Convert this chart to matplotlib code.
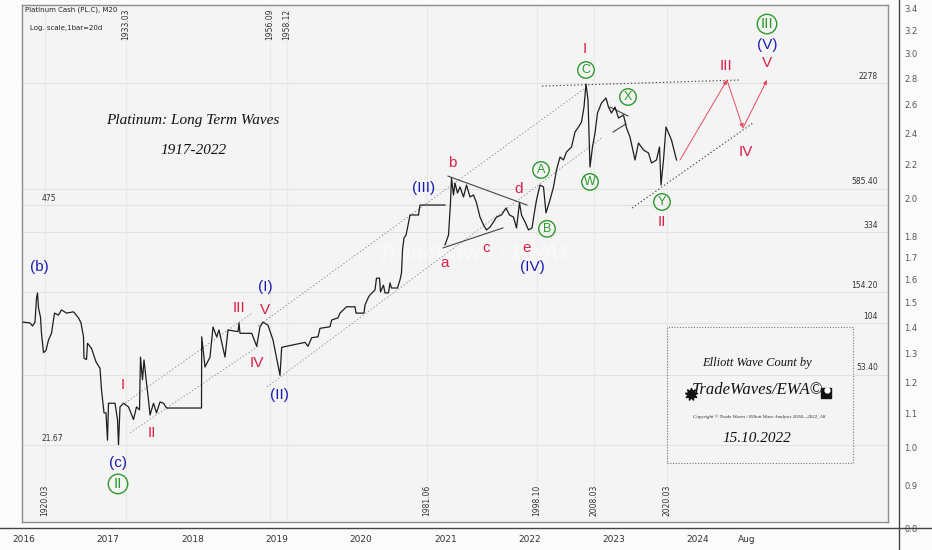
import numpy as np
import matplotlib
matplotlib.use("Agg")
import matplotlib.pyplot as plt
from matplotlib.lines import Line2D
from matplotlib.ticker import NullLocator

# ---- outer scale (right axis / year axis) ----
year_ticks = [2016, 2017, 2018, 2019, 2020, 2021, 2022, 2023, 2024, 2024.583]
year_labels = ["2016", "2017", "2018", "2019", "2020", "2021", "2022", "2023", "2024", "Aug"]
right_ticks = [0.8, 0.9, 1.0, 1.1, 1.2, 1.3, 1.4, 1.5, 1.6, 1.7, 1.8, 2.0, 2.2, 2.4, 2.6, 2.8, 3.0, 3.2, 3.4]

# ---- inner chart: price line (bar index, price) ----
bars = [1, 8, 10.5, 13, 14.5, 15.5, 16.5, 18.5, 19.5, 21.5, 24, 26.5, 29.5, 31.5, 32.5, 36.5, 39.5,
        44.5, 51.5, 56.5, 59, 61.5, 62, 64.5, 65.5, 69.5, 74, 78, 79.5, 82, 84, 85.5, 86.5, 93, 95.5,
        96.5, 98, 101.5, 106.5, 111.5, 114.5, 117.5, 118.5, 120.5, 122, 124.5, 126.5, 128, 131.5,
        134.5, 138, 141.5, 144.5, 179.5, 179.7, 183, 188, 191, 194.7, 197, 203, 206, 216, 217, 218,
        229.7, 234.7, 238, 241, 246, 251, 258, 259.7, 283, 286, 289.7, 296, 298, 308, 309.7, 316,
        318, 324.5, 333, 334, 342, 343, 346.5, 348, 353, 354.5, 357.5, 358.5, 361.5, 363, 366.5,
        368, 369.5, 375.5, 378, 379.5, 380.5, 382, 384, 385.5, 388, 396.5, 398, 423,
        np.nan,
        423, 426.5, 428.5, 429.5, 431.5, 433, 435.5, 438, 441.5, 444.5, 448, 451.5, 454.5, 458,
        461.5, 464.5, 468, 471.5, 474.5, 479.5, 484, 487.5, 491.5, 494.5, 497.5, 499.5, 503, 506.5,
        510, 512, 514.5, 518, 521.5, 524, 528, 531.5, 534.5, 538, 541.5, 544.5, 549.5, 553, 556.5,
        559.5, 562, 564, 566, 568, 570.5, 573, 575.5, 579.5, 584, 586.5, 589.5, 593, 596.5, 601.5,
        604.5, 608, 613, 616.5, 621.5, 626.5, 629.5, 634.5, 637.5, 639, 641.5, 644, 646.5, 649.5,
        652, 654.5]
prices = [105, 104, 100, 105, 143, 153, 126, 112, 91, 71, 73, 83.5, 91, 108, 118, 115, 123,
          118, 120, 111, 104, 87, 66, 65, 80, 75, 63, 58, 44, 32.7, 32.7, 23, 37, 37, 30,
          21.7, 35.3, 37, 35.3, 30, 35.3, 34, 67, 50, 64.6, 48, 38.6, 31.8, 37,
          32.7, 37.6, 37, 34.8, 34.8, 87, 59, 67, 98.7, 87, 95, 67, 95, 93, 104, 91,
          91, 77, 99, 105, 101, 83.5, 53, 76, 81, 77, 86, 87, 97, 99, 108, 111,
          118, 128, 128, 118, 118, 131, 145, 149, 159, 185, 185, 155, 169, 153, 153,
          174, 163, 163, 181, 198, 266, 310, 322, 353, 417, 417, 474, 474,
          np.nan,
          284, 322, 487, 671, 539, 629, 553, 598, 526, 613, 526, 539, 487, 406,
          367, 344, 357, 381, 406, 417, 456, 417, 406, 353, 487, 417, 381, 344,
          353, 417, 506, 613, 598, 428, 506, 598, 744, 879, 846, 938, 1000, 1213, 1293,
          1379, 1672, 2250, 1831, 773, 1000, 1197, 1549, 1761, 1878, 1672, 1549, 1672, 1452, 1510,
          1277, 1137, 846, 1053, 962, 926, 814, 846, 1000, 613, 846, 1293, 1197, 1094,
          962, 846]

# price levels printed on the inner chart
levels = [2278, 585.40, 334, 154.20, 104, 53.40]
level_labels = ["2278", "585.40", "334", "154.20", "104", "53.40"]
left_levels = [475, 21.67]
left_level_labels = ["475", "21.67"]

# date markers (bar index, label)
top_dates = [(104, "1933.03"), (248, "1956.09"), (265, "1958.12")]
bottom_dates = [(23, "1920.03"), (405, "1981.06"), (515, "1998.10"), (572, "2008.03"), (645, "2020.03")]

# wave labels (bar, price, text)
red_labels = [(563, 3529, "I"), (704, 2836, "III"), (745, 2946, "V"), (724, 938, "IV"),
              (640, 381, "II"), (101, 46.9, "I"), (130, 25.3, "II"), (217, 126, "III"),
              (243, 123, "V"), (235, 62.3, "IV"),
              (423, 226, "a"), (430, 814, "b"), (464, 273, "c"), (497, 583, "d"), (505, 273, "e")]
blue_labels = [(17, 214, "(b)"), (96, 17.2, "(c)"), (243, 165, "(I)"), (257, 41.2, "(II)"),
               (402, 590, "(III)"), (510, 214, "(IV)"), (745, 3715, "(V)")]
green_labels = [(96, 13.1, "II"), (745, 4866, "III"), (519, 744, "A"), (525, 349, "B"),
                (564, 2693, "C"), (568, 638, "W"), (606, 1903, "X"), (640, 493, "Y")]

# trend / channel lines (bar0, price0, bar1, price1)
channel_lines = [(103, 37.1, 230, 118), (108, 25.3, 238, 78.4),
                 (236, 100, 566, 2191), (245, 45.7, 581, 1137)]
triangle_lines = [(426, 688, 505, 474), (421, 273, 481, 353),
                  (588, 1672, 606, 1490), (591, 1213, 604, 1344)]
dark_dotted = [(520, 2191, 718, 2368), (610, 456, 731, 1363)]
projection_bars = [658, 705, 721, 745]
projection_prices = [846, 2368, 1277, 2368]

RED = "#d8204a"
BLUE = "#1c1cb0"
GREEN = "#2c9a2c"
SCRIPT = dict(family="Liberation Serif", style="italic")

fig = plt.figure(figsize=(9.32, 5.5), dpi=100, facecolor="#fbfbfb")

# outer axes: log scale on the right, years at the bottom
ax = fig.add_axes([0, 22 / 550, 899 / 932, 528 / 550])
ax.set_facecolor("none")
ax.set_xlim(2015.715, 2026.386)
ax.set_yscale("log")
ax.set_ylim(0.803, 3.481)
ax.set_yticks(right_ticks)
ax.set_yticklabels(["%.1f" % t for t in right_ticks])
ax.yaxis.set_minor_locator(NullLocator())
ax.set_xticks(year_ticks)
ax.set_xticklabels(year_labels)
ax.yaxis.tick_right()
ax.tick_params(axis="y", length=0, pad=4, labelsize=6, labelcolor="#555555")
ax.tick_params(axis="x", length=0, pad=5, labelsize=6.5, labelcolor="#333333")
for s in ax.spines.values():
    s.set_visible(False)
fig.add_artist(Line2D([0, 1], [22 / 550, 22 / 550], transform=fig.transFigure, color="#444444", lw=1))
fig.add_artist(Line2D([899 / 932, 899 / 932], [0, 1], transform=fig.transFigure, color="#444444", lw=1))

# inner chart panel
ai = fig.add_axes([22 / 932, 28 / 550, 866 / 932, 517 / 550])
ai.set_facecolor("#f4f4f4")
ai.set_xlim(0, 866)
ai.set_yscale("log")
ai.set_ylim(8.03, 6215)
ai.set_xticks([])
ai.set_yticks([])
ai.yaxis.set_minor_locator(NullLocator())
for s in ai.spines.values():
    s.set_color("#8c8c8c")
    s.set_linewidth(1)

for lv in levels + left_levels:
    ai.axhline(lv, color="#e2e2e2", lw=0.8, zorder=1)
for b, _ in top_dates + bottom_dates:
    ai.axvline(b, color="#e8e8e8", lw=0.8, zorder=1)

for lv, lab in zip(levels, level_labels):
    ai.text(856, lv * 1.03, lab, ha="right", va="bottom", fontsize=5.5, color="#333333")
for lv, lab in zip(left_levels, left_level_labels):
    ai.text(20, lv * 1.03, lab, ha="left", va="bottom", fontsize=5.5, color="#333333")

for b, lab in top_dates:
    ai.text(b, 0.993, lab, transform=ai.get_xaxis_transform(), rotation=90,
            ha="center", va="top", fontsize=5.5, color="#333333")
for b, lab in bottom_dates:
    ai.text(b, 0.012, lab, transform=ai.get_xaxis_transform(), rotation=90,
            ha="center", va="bottom", fontsize=5.5, color="#333333")

ai.text(0.0035, 0.99, "Platinum Cash (PL.C), M20", transform=ai.transAxes,
        ha="left", va="center", fontsize=5, color="#222222")
ai.text(0.009, 0.955, "Log. scale,1bar=20d", transform=ai.transAxes,
        ha="left", va="center", fontsize=5, color="#222222")

# faint watermark
ai.text(455, 250, "TradeWaves / EWA\u00a9", ha="center", va="center", fontsize=17,
        color="white", alpha=0.6, zorder=2, **SCRIPT)

# guide lines
for b0, p0, b1, p1 in channel_lines:
    ai.plot([b0, b1], [p0, p1], color="#9a9a9a", lw=0.7, ls=(0, (1.5, 2)), zorder=3)
for b0, p0, b1, p1 in triangle_lines:
    ai.plot([b0, b1], [p0, p1], color="#444444", lw=0.8, zorder=3)
for b0, p0, b1, p1 in dark_dotted:
    ai.plot([b0, b1], [p0, p1], color="#444444", lw=0.8, ls=(0, (1.2, 2)), zorder=3)

# price line
ai.plot(bars, prices, color="#1e1e1e", lw=0.9, zorder=4)

# projected path
for i in range(len(projection_bars) - 1):
    ai.annotate("", xy=(projection_bars[i + 1], projection_prices[i + 1]),
                xytext=(projection_bars[i], projection_prices[i]),
                arrowprops=dict(arrowstyle="-|>", color="#e84a5f", lw=0.7,
                                mutation_scale=6, shrinkA=0, shrinkB=0), zorder=5)

# wave labels
for b, p, t in red_labels:
    ai.text(b, p, t, ha="center", va="center", fontsize=11, color=RED,
            family="Liberation Sans", zorder=6)
for b, p, t in blue_labels:
    ai.text(b, p, t, ha="center", va="center", fontsize=11, color=BLUE,
            family="Liberation Sans", zorder=6)
for b, p, t in green_labels:
    size = 11 if t in ("II", "III") else 9
    ai.text(b, p, t, ha="center", va="center", fontsize=size, color=GREEN,
            family="Liberation Sans", zorder=6,
            bbox=dict(boxstyle="circle,pad=0.18", fc="none", ec=GREEN, lw=1))

# title
ai.text(0.1975, 0.776, "Platinum: Long Term Waves", transform=ai.transAxes,
        ha="center", va="center", fontsize=11, color="#111111", **SCRIPT)
ai.text(0.1975, 0.7195, "1917-2022", transform=ai.transAxes,
        ha="center", va="center", fontsize=11, color="#111111", **SCRIPT)

# credit box
ai.add_patch(plt.Rectangle((0.745, 0.114), 0.215, 0.263, transform=ai.transAxes,
                           fill=False, ec="#777777", lw=0.8, ls=(0, (1, 1.5)), zorder=5))
ai.text(0.849, 0.308, "Elliott Wave Count by", transform=ai.transAxes,
        ha="center", va="center", fontsize=9, color="#111111", **SCRIPT)
ai.text(0.849, 0.255, "TradeWaves/EWA\u00a9", transform=ai.transAxes,
        ha="center", va="center", fontsize=12, color="#111111", **SCRIPT)
ai.text(0.851, 0.204, "Copyright \u00a9 Trade Waves / Elliott Wave Analysis 2018\u20142022, All",
        transform=ai.transAxes, ha="center", va="center", fontsize=3.6, color="#222222", **SCRIPT)
ai.text(0.849, 0.162, "15.10.2022", transform=ai.transAxes,
        ha="center", va="center", fontsize=11, color="#111111", **SCRIPT)
ai.plot([0.773], [0.248], transform=ai.transAxes, marker=(9, 1, 0), ms=9, color="#111111", zorder=6)
ai.plot([0.928], [0.250], transform=ai.transAxes, marker="s", ms=7, mfc="#111111",
        mec="#111111", zorder=6)
ai.plot([0.930], [0.255], transform=ai.transAxes, marker="o", ms=3.5, color="white", zorder=7)

fig.savefig("out.png", dpi=100, facecolor=fig.get_facecolor())
